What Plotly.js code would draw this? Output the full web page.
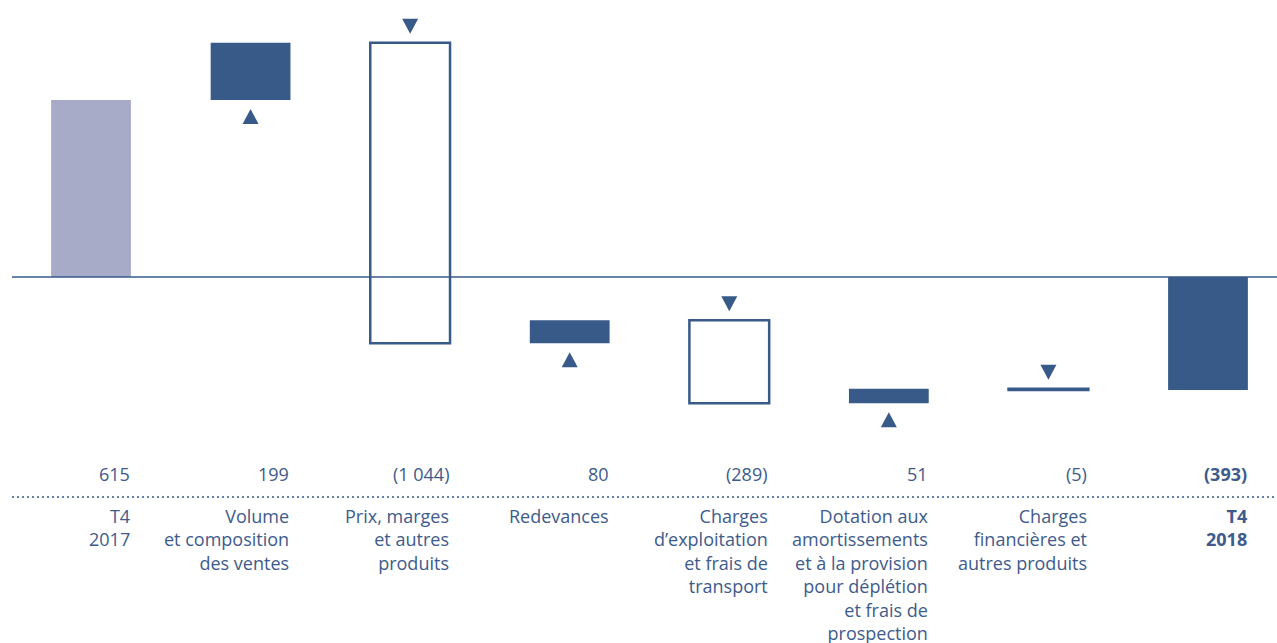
<!DOCTYPE html>
<html>
<head>
<meta charset="utf-8">
<script src="https://cdn.plot.ly/plotly-3.0.1.min.js"></script>
<style>html,body{margin:0;padding:0;background:#fff;}#chart{width:1277px;height:643px;}</style>
</head>
<body>
<div id="chart"></div>
<script>
const categories = [
  "T4<br>2017",
  "Volume<br>et composition<br>des ventes",
  "Prix, marges<br>et autres<br>produits",
  "Redevances",
  "Charges<br>d’exploitation<br>et frais de<br>transport",
  "Dotation aux<br>amortissements<br>et à la provision<br>pour déplétion<br>et frais de<br>prospection",
  "Charges<br>financières et<br>autres produits",
  "T4<br>2018"
];
const values = [615, 199, -1044, 80, -289, 51, -5, -393];
const valueLabels = ["615", "199", "(1 044)", "80", "(289)", "51", "(5)", "(393)"];
const kinds = ["start", "delta", "delta", "delta", "delta", "delta", "delta", "total"];

const DARK = "#375a89";
const LIGHT = "#a7abc7";
const TEXT = "#3d5b8c";
const PX_PER_UNIT = 177 / 615;
const H = 643, W = 1277;
const yTop = 277 / PX_PER_UNIT, yBot = -(H - 277) / PX_PER_UNIT;
const step = 159.57, x0px = 91;
const xMin = -x0px / step, xMax = 7 + (W - (x0px + 7 * step)) / step;
const FONT = "Open Sans, sans-serif";
const FSIZE = 18;

const xs = values.map((v, i) => i);
let running = 0;
const bases = [], colors = [], lineW = [];
const triShapes = [];
values.forEach((v, i) => {
  if (kinds[i] === "delta") {
    bases.push(running);
    const up = v >= 0;
    colors.push(up ? DARK : "#ffffff");
    lineW.push(up ? 0 : 2.5);
    triShapes.push({
      type: "path", xref: "x", yref: "y",
      xsizemode: "pixel", ysizemode: "pixel", xanchor: i, yanchor: running,
      path: up ? "M-8,-24 L8,-24 L0,-9 Z" : "M-8,24 L8,24 L0,9 Z",
      fillcolor: DARK, line: { width: 0 }
    });
    running += v;
  } else {
    bases.push(0);
    colors.push(kinds[i] === "start" ? LIGHT : DARK);
    lineW.push(0);
    running = v;
  }
});

const bars = {
  type: "bar", x: xs, y: values, base: bases, width: 0.5,
  marker: { color: colors, line: { color: DARK, width: lineW } },
  hoverinfo: "skip"
};

const annotations = [];
values.forEach((v, i) => {
  const bold = kinds[i] === "total";
  annotations.push({
    xref: "x", yref: "paper", x: i + 0.25, y: 1 - 474 / H,
    xanchor: "right", yanchor: "middle", showarrow: false, borderpad: 0,
    text: bold ? "<b>" + valueLabels[i] + "</b>" : valueLabels[i],
    font: { family: FONT, size: FSIZE, color: TEXT }
  });
  annotations.push({
    xref: "x", yref: "paper", x: i + 0.25, y: 1 - 503 / H,
    xanchor: "right", yanchor: "top", align: "right", showarrow: false, borderpad: 0,
    text: bold ? "<b>" + categories[i] + "</b>" : categories[i],
    font: { family: FONT, size: FSIZE, color: TEXT }
  });
});

const layout = {
  width: W, height: H,
  margin: { l: 0, r: 0, t: 0, b: 0, pad: 0 },
  paper_bgcolor: "#fff", plot_bgcolor: "#fff",
  showlegend: false,
  xaxis: { range: [xMin, xMax], visible: false, fixedrange: true },
  yaxis: { range: [yBot, yTop], visible: false, fixedrange: true },
  shapes: [
    { type: "line", xref: "paper", yref: "y", x0: 12 / W, x1: 1, y0: 0, y1: 0,
      line: { color: DARK, width: 1.5 }, layer: "above" },
    { type: "line", xref: "paper", yref: "paper", x0: 12 / W, x1: 1, y0: 1 - 497 / H, y1: 1 - 497 / H,
      line: { color: DARK, width: 1.5, dash: "2px,3px" } }
  ].concat(triShapes),
  annotations: annotations
};

Plotly.newPlot("chart", [bars], layout, { displayModeBar: false, staticPlot: true });
</script>
</body>
</html>
